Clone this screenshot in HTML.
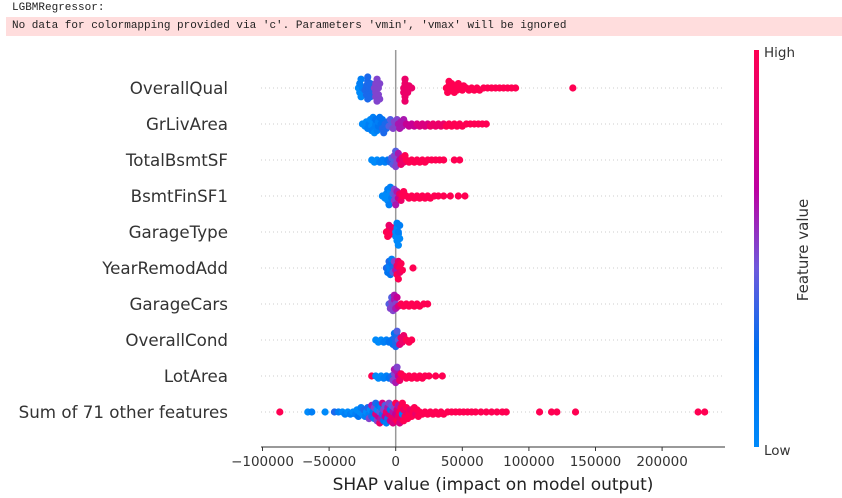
<!DOCTYPE html>
<html><head><meta charset="utf-8"><style>
html,body{margin:0;padding:0;background:#fff;}
body{width:842px;height:498px;position:relative;overflow:hidden;font-family:"DejaVu Sans","Liberation Sans",sans-serif;}
.mono{font-family:"Liberation Mono","DejaVu Sans Mono",monospace;font-size:11px;color:#222;position:absolute;}
</style></head><body>
<div class="mono" style="left:12px;top:2px;">LGBMRegressor:</div>
<div style="position:absolute;left:6px;top:17px;width:836px;height:19px;background:#fdd;"></div>
<div class="mono" style="left:12px;top:20px;">No data for colormapping provided via 'c'. Parameters 'vmin', 'vmax' will be ignored</div>
<svg id="chart" width="842" height="498" style="position:absolute;left:0;top:0;" xmlns="http://www.w3.org/2000/svg">
<defs><linearGradient id="cg" x1="0" y1="1" x2="0" y2="0">
<stop offset="0" stop-color="rgb(0,138,250)"/><stop offset="0.25" stop-color="rgb(0,110,240)"/><stop offset="0.45" stop-color="rgb(110,90,220)"/><stop offset="0.65" stop-color="rgb(190,0,160)"/><stop offset="1" stop-color="rgb(255,0,82)"/></linearGradient></defs>
</svg>
<script>
const features = ["OverallQual","GrLivArea","TotalBsmtSF","BsmtFinSF1","GarageType","YearRemodAdd","GarageCars","OverallCond","LotArea","Sum of 71 other features"];
const xTicks = [-100000,-50000,0,50000,100000,150000,200000];
// points: [shap value in thousands, feature value 0..10]
const overallQualPts = [[-28,0],[-27,0],[-27,1],[-26,0],[-26,1],[-25,1],[-23,3],[-22,3],[-22,3],[-21,3],[-21,3],[-21,3],[-20,3],[-20,3],[-20,3],[-19,3],[-19,3],[-18,3],[-16,5],[-15,5],[-15,5],[-15,5],[-14,5],[-14,5],[-14,5],[-13,5],[-13,5],[-12,5],[-12,5],[6,9],[6,9],[7,9],[7,9],[7,9],[7,9],[7,9],[8,9],[9,9],[10,9],[12,9],[38,10],[39,10],[40,10],[40,10],[41,10],[42,10],[43,10],[44,10],[45,10],[46,10],[47,10],[48,10],[50,10],[51,10],[53,10],[55,10],[57,10],[59,10],[61,10],[63,10],[66,10],[69,10],[72,10],[75,10],[78,10],[81,10],[84,10],[87,10],[90,10],[133,10]];
const grLivAreaPts = [[-25,0],[-23,0],[-22,0],[-21,1],[-20,1],[-19,0],[-18,0],[-18,1],[-17,0],[-17,1],[-16,1],[-16,0],[-15,1],[-15,2],[-14,1],[-13,2],[-13,1],[-12,2],[-11,2],[-10,3],[-10,2],[-9,3],[-8,3],[-7,3],[-6,3],[-5,4],[-4,4],[-3,4],[-2,5],[-1,5],[0,5],[1,5],[2,6],[3,6],[4,6],[5,6],[6,6],[8,7],[10,7],[12,7],[14,7],[16,8],[18,8],[20,8],[22,8],[24,8],[26,9],[28,9],[30,9],[32,9],[34,9],[36,9],[38,10],[40,10],[42,10],[44,10],[46,10],[48,10],[50,10],[53,10],[56,10],[59,10],[62,10],[65,10],[68,10]];
const totalBsmtSFPts = [[-18,0],[-16,0],[-14,0],[-12,1],[-10,1],[-8,1],[-6,2],[-4,3],[-3,4],[-2,4],[-1,4],[-1,5],[0,5],[0,4],[1,5],[1,5],[2,6],[3,7],[4,9],[5,9],[6,9],[7,10],[8,10],[10,10],[12,10],[14,10],[16,10],[18,10],[20,10],[22,10],[24,10],[27,10],[30,10],[33,10],[36,10],[44,10],[48,10]];
const bsmtFinSF1Pts = [[-10,0],[-8,0],[-7,0],[-6,0],[-6,1],[-5,0],[-5,1],[-4,0],[-4,1],[-3,1],[-2,4],[-1,5],[-1,5],[0,5],[0,6],[1,6],[2,7],[3,9],[4,9],[5,10],[6,10],[8,10],[10,10],[12,10],[14,10],[16,10],[18,10],[20,10],[22,10],[24,10],[26,10],[29,10],[32,10],[36,10],[41,10],[47,10],[52,10]];
const garageTypePts = [[-7,10],[-6,10],[-5,10],[-5,9],[-4,10],[-3,9],[0,0],[0,0],[1,0],[1,0],[1,1],[2,0],[2,0],[2,1],[3,0],[3,1]];
const yearRemodAddPts = [[-7,3],[-6,2],[-5,1],[-5,3],[-4,1],[-4,2],[-3,2],[-3,1],[-2,3],[-2,4],[-1,5],[0,6],[1,9],[1,10],[2,9],[2,10],[3,10],[3,9],[4,10],[5,10],[13,10]];
const garageCarsPts = [[-5,4],[-4,5],[-3,5],[-3,4],[-2,5],[-2,5],[-1,6],[-1,6],[0,5],[0,6],[1,7],[2,8],[4,10],[6,10],[8,10],[10,10],[12,10],[14,10],[16,10],[18,10],[21,10],[24,10]];
const overallCondPts = [[-15,0],[-13,0],[-11,0],[-9,1],[-7,1],[-5,2],[-3,2],[-2,2],[-1,3],[-1,2],[0,3],[0,3],[1,3],[1,4],[2,4],[3,8],[4,9],[5,9],[6,9],[8,10],[10,10],[12,10]];
const lotAreaPts = [[-18,10],[-15,0],[-13,0],[-11,0],[-9,1],[-7,1],[-5,2],[-3,3],[-2,5],[-1,5],[-1,6],[0,5],[0,6],[1,6],[1,5],[2,7],[3,9],[4,10],[6,10],[8,10],[10,10],[12,10],[14,10],[16,10],[18,10],[20,10],[22,10],[25,10],[30,10],[35,10]];
const sumOtherPts = [[-87,10],[-66,0],[-63,1],[-53,0],[-46,3],[-43,1],[-40,0],[-38,1],[-36,0],[-34,1],[-32,0],[-30,1],[-29,0],[-28,2],[-27,0],[-26,1],[-25,0],[-24,3],[-23,1],[-22,0],[-21,3],[-20,1],[-20,5],[-19,0],[-18,3],[-18,6],[-17,2],[-16,5],[-16,1],[-15,8],[-15,3],[-14,0],[-14,5],[-13,7],[-13,2],[-12,4],[-12,9],[-11,1],[-11,6],[-10,3],[-10,8],[-9,5],[-9,2],[-8,7],[-8,4],[-7,9],[-7,1],[-6,6],[-6,3],[-5,8],[-5,5],[-4,2],[-4,7],[-3,9],[-3,4],[-2,6],[-2,8],[-1,5],[-1,9],[0,7],[0,10],[1,8],[1,10],[2,9],[2,6],[3,10],[3,8],[4,10],[4,9],[5,1],[5,10],[6,9],[6,10],[7,10],[8,9],[8,10],[9,10],[10,10],[11,9],[12,10],[13,10],[14,10],[15,9],[16,10],[17,10],[18,10],[20,10],[22,10],[24,10],[26,10],[28,10],[30,10],[32,10],[34,10],[36,10],[39,10],[42,10],[45,10],[48,10],[51,10],[54,10],[57,10],[60,10],[64,10],[68,10],[72,10],[76,10],[80,10],[83,10],[108,10],[117,10],[121,10],[135,10],[227,10],[232,10]];
const rowPoints = [overallQualPts,grLivAreaPts,totalBsmtSFPts,bsmtFinSF1Pts,garageTypePts,yearRemodAddPts,garageCarsPts,overallCondPts,lotAreaPts,sumOtherPts];

const NS="http://www.w3.org/2000/svg";
const svg=document.getElementById('chart');
const FONT='DejaVu Sans, Liberation Sans, sans-serif';
const X0=395.7, PX_PER_K=1.332, AX_L=261, AX_R=725, AX_Y=447, ROW0=88, ROW_STEP=36;
const xScale=v=>X0+v*PX_PER_K/1000;
const yRow=i=>ROW0+i*ROW_STEP;
function mk(tag,attrs){const e=document.createElementNS(NS,tag);for(const k in attrs)e.setAttribute(k,attrs[k]);svg.appendChild(e);return e;}
const stops=[[0,[0,138,250]],[0.25,[0,110,240]],[0.45,[110,90,220]],[0.65,[190,0,160]],[1,[255,0,82]]];
function cmap(t){for(let i=1;i<stops.length;i++){if(t<=stops[i][0]){const a=stops[i-1],b=stops[i];const f=(t-a[0])/(b[0]-a[0]);const c=a[1].map((v,j)=>Math.round(v+(b[1][j]-v)*f));return `rgb(${c})`;}}return 'rgb(255,0,82)';}

features.forEach((f,i)=>{
  const g=mk('line',{x1:AX_L,x2:AX_R,y1:yRow(i),y2:yRow(i),stroke:'#ccc','stroke-width':1,'stroke-dasharray':'1,3'});
  
  
  const t=mk('text',{x:228,y:yRow(i)+6,'text-anchor':'end','font-size':16.7,fill:'#333','font-family':FONT});
  t.textContent=f;
  
  
});
const zl=mk('line',{x1:X0,x2:X0,y1:50,y2:AX_Y,stroke:'#999','stroke-width':1.5});



rowPoints.forEach((pts,i)=>{
  const placed=[];
  const cy=yRow(i);
  pts.forEach(p=>{
    const x=xScale(p[0]*1000);
    let best=null;
    for(let k=0;k<12;k++){
      const cand=(k===0)?0:((k%2)?1:-1)*Math.ceil(k/2)*2.2;
      if(placed.every(q=>Math.hypot(q[0]-x,q[1]-cand)>=3.4)){best=cand;break;}
    }
    const dy=(best===null)?0:best;
    placed.push([x,dy]);
    const c=mk('circle',{cx:x,cy:cy+dy,r:3.6,fill:cmap(p[1]/10)});
    
    
  });
});

const ax=mk('line',{x1:AX_L,x2:AX_R,y1:AX_Y,y2:AX_Y,stroke:'#333','stroke-width':1});


xTicks.forEach(v=>{
  const x=xScale(v);
  const tk=mk('line',{x1:x,x2:x,y1:AX_Y,y2:AX_Y+4,stroke:'#333'});
  
  
  const tl=mk('text',{x:x,y:AX_Y+19,'text-anchor':'middle','font-size':13.5,fill:'#333','font-family':FONT});
  tl.textContent=(v<0?'\u2212':'')+Math.abs(v);
  
  
});
const xt=mk('text',{x:(AX_L+AX_R)/2,y:490,'text-anchor':'middle','font-size':17,fill:'#222','font-family':FONT});
xt.textContent='SHAP value (impact on model output)';



const cb=mk('rect',{x:754,y:50,width:5,height:397,fill:'url(#cg)'});


const hi=mk('text',{x:764,y:57,'font-size':13.5,fill:'#333','font-family':FONT});
hi.textContent='High';


const lo=mk('text',{x:764,y:455,'font-size':13.5,fill:'#333','font-family':FONT});
lo.textContent='Low';


const fv=mk('text',{x:0,y:0,'text-anchor':'middle','font-size':15,fill:'#333','font-family':FONT,transform:'translate(808,250) rotate(-90)'});
fv.textContent='Feature value';


</script>
</body></html>
